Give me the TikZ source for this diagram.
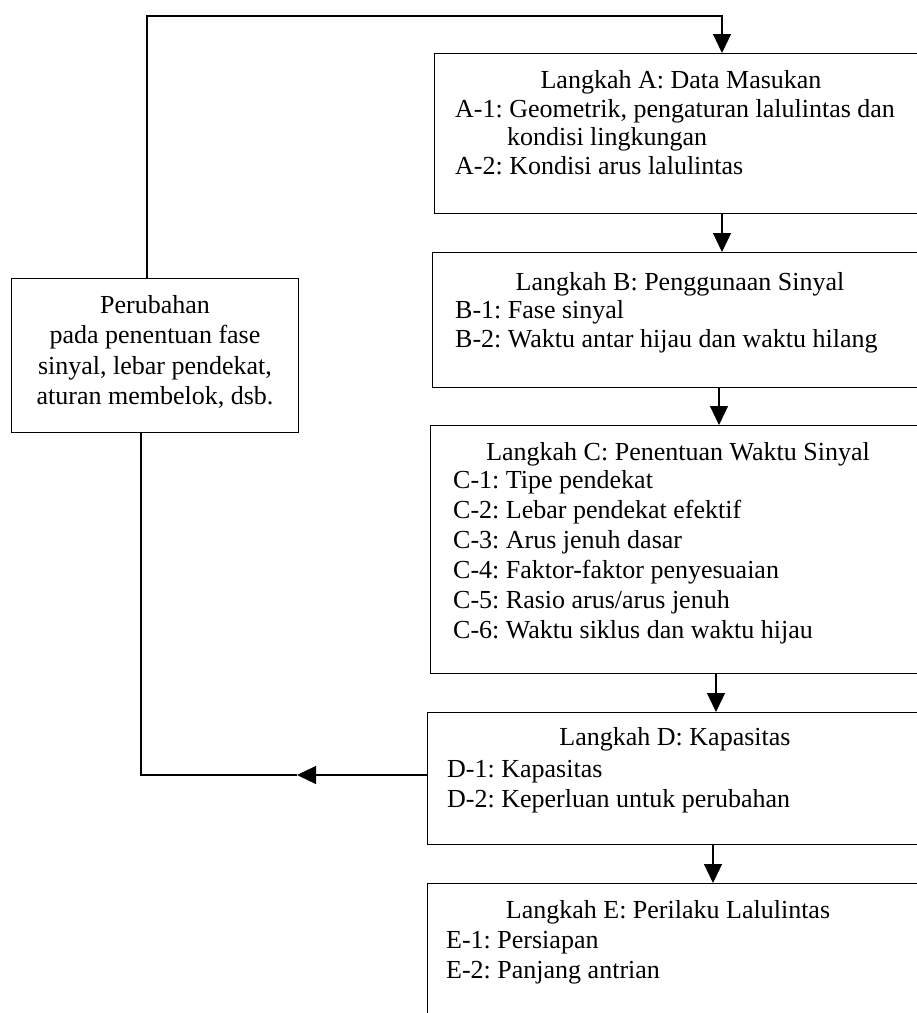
\documentclass[tikz,border=0pt]{standalone}
\usepackage{fontspec}
\setmainfont{Liberation Serif}
\usetikzlibrary{arrows.meta}
\frenchspacing
\begin{document}
\begin{tikzpicture}[x=1pt,y=-1pt,
  box/.style={draw, line width=1.2pt, rectangle, inner sep=0pt, anchor=north west},
  conn/.style={line width=1.2pt},
  arr/.style={line width=1.2pt, -{Triangle[length=19pt,width=18pt]}},
  ttl/.style={anchor=base, inner sep=0pt, font=\fontsize{26}{30}\selectfont\frenchspacing},
  items/.style={anchor=base west, inner sep=0pt, align=left},
]
\clip (0,0) rectangle (917,1013);
\fill[white] (0,0) rectangle (917,1013);

% boxes
\node[box, minimum width=496pt, minimum height=160pt] (A) at (434,53) {};
\node[box, minimum width=498pt, minimum height=135pt] (B) at (432,252) {};
\node[box, minimum width=500pt, minimum height=248pt] (C) at (430,425) {};
\node[box, minimum width=503pt, minimum height=132pt] (D) at (427,712) {};
\node[box, minimum width=503pt, minimum height=160pt] (E) at (427,883) {};
\node[box, minimum width=287pt, minimum height=154pt] (P) at (11,278) {};

% texts (multi-line nodes are placed by the baseline of their last line)
\node[ttl] (At) at (681,88) {Langkah A: Data Masukan};
\node[items, font=\fontsize{26}{28.5}\selectfont\frenchspacing] (Ai) at (455,174)
  {A-1: Geometrik, pengaturan lalulintas dan\\\hspace*{52pt}kondisi lingkungan\\A-2: Kondisi arus lalulintas};

\node[ttl] (Bt) at (680,290) {Langkah B: Penggunaan Sinyal};
\node[items, font=\fontsize{26}{29}\selectfont\frenchspacing] (Bi) at (455,347)
  {B-1: Fase sinyal\\B-2: Waktu antar hijau dan waktu hilang};

\node[ttl] (Ct) at (678,460) {Langkah C: Penentuan Waktu Sinyal};
\node[items, font=\fontsize{26}{30}\selectfont\frenchspacing] (Ci) at (453,638)
  {C-1: Tipe pendekat\\C-2: Lebar pendekat efektif\\C-3: Arus jenuh dasar\\C-4: Faktor-faktor penyesuaian\\C-5: Rasio arus/arus jenuh\\C-6: Waktu siklus dan waktu hijau};

\node[ttl] (Dt) at (675,745) {Langkah D: Kapasitas};
\node[items, font=\fontsize{26}{30.5}\selectfont\frenchspacing] (Di) at (447,807.5)
  {D-1: Kapasitas\\D-2: Keperluan untuk perubahan};

\node[ttl] (Et) at (668,918) {Langkah E: Perilaku Lalulintas};
\node[items, font=\fontsize{26}{30}\selectfont\frenchspacing] (Ei) at (446,978)
  {E-1: Persiapan\\E-2: Panjang antrian};

\node[anchor=base, inner sep=0pt, align=center, font=\fontsize{26}{30.5}\selectfont\frenchspacing] (Pt) at (155,404.5)
  {Perubahan\\pada penentuan fase\\sinyal, lebar pendekat,\\aturan membelok, dsb.};

% connectors
\coordinate (t1) at (147,16);
\coordinate (t2) at (722,16);
\draw[arr] (P.north -| t1) -- (t1) -- (t2) -- (t2 |- A.north);

\coordinate (ab) at (722,0);
\coordinate (bc) at (719,0);
\coordinate (cd) at (716,0);
\coordinate (de) at (713,0);
\draw[arr] (A.south -| ab) -- (B.north -| ab);
\draw[arr] (B.south -| bc) -- (C.north -| bc);
\draw[arr] (C.south -| cd) -- (D.north -| cd);
\draw[arr] (D.south -| de) -- (E.north -| de);

\coordinate (l1) at (297,775);
\coordinate (l2) at (141,775);
\draw[arr] (D.west |- l1) -- (l1);
\draw[conn] (l1) -- (l2) -- (l2 |- P.south);
\end{tikzpicture}
\end{document}
